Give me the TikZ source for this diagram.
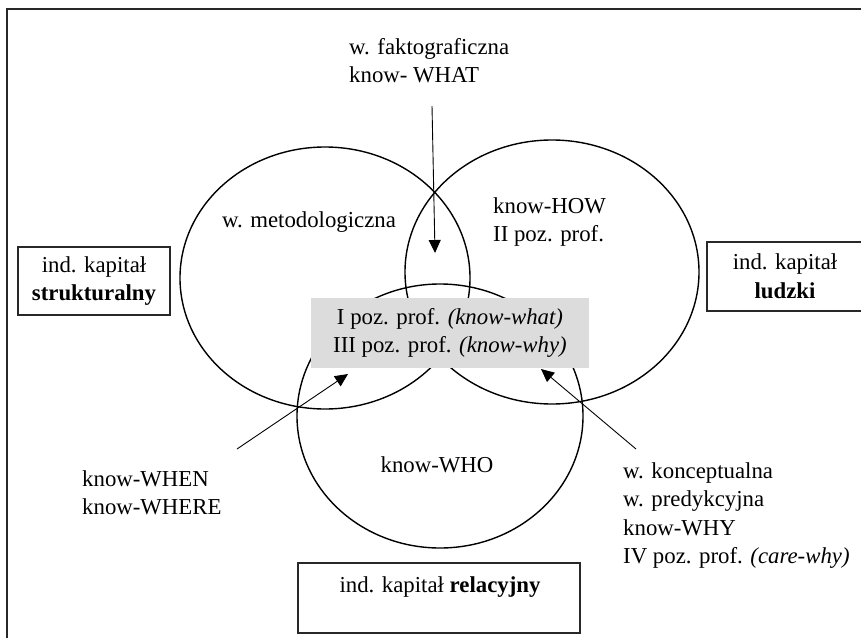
\documentclass[tikz,border=0pt]{standalone}
\usepackage{fontspec}
\setmainfont{Liberation Serif}
\usetikzlibrary{arrows.meta,shapes.geometric}
\definecolor{boxgrey}{RGB}{220,220,220}
\definecolor{framegrey}{RGB}{40,40,40}
\begin{document}
\begin{tikzpicture}[x=1pt,y=-1pt,
  txt/.style={font=\fontsize{22.8}{28.6}\selectfont, inner sep=0pt},
  venn/.style={draw, line width=1.4pt, ellipse, inner sep=0pt},
  kbox/.style={draw=framegrey, line width=1.1pt, rectangle, inner sep=0pt},
  arr/.style={line width=0.9pt, -{Triangle[length=13pt,width=12pt]}}
]
\useasboundingbox (0,0) rectangle (861,637);
% frame
\draw[framegrey, line width=1.8pt] (7,660) -- (7,9) -- (880,9);
% ellipses
\node[venn, minimum width=290pt, minimum height=262pt] (met) at (325,278) {};
\node[venn, minimum width=294pt, minimum height=264pt] (how) at (552,272) {};
\node[venn, minimum width=286pt, minimum height=264pt] (who) at (440,416) {};
% grey centre box
\node[fill=boxgrey, minimum width=278pt, minimum height=70pt, txt, align=center] (core) at (450,333)
  {I poz. prof. \textit{(know-what)}\\III poz. prof. \textit{(know-why)}};
% capital boxes
\node[kbox, minimum width=152pt, minimum height=68pt, txt, align=center] (lbox) at (94,281)
  {ind. kapitał\\\textbf{strukturalny}};
\node[kbox, minimum width=156pt, minimum height=69pt, txt, align=center] (rbox) at (785,276.5)
  {ind. kapitał\\\textbf{ludzki}};
\node[kbox, minimum width=282pt, minimum height=70pt] (bbox) at (439,598) {};
\node[txt] (btxt) at (440,587) {ind. kapitał \textbf{relacyjny}};
% labels
\node[txt, anchor=north west, align=left] (fakt) at (349,38) {w. faktograficzna\\know- WHAT};
\node[txt] (metl) at (309,222) {w. metodologiczna};
\node[txt, anchor=north west, align=left] (howl) at (493,197) {know-HOW\\II poz. prof.};
\node[txt] (whol) at (437,465) {know-WHO};
\node[txt, anchor=north west, align=left] (when) at (82,470) {know-WHEN\\know-WHERE};
\node[txt, anchor=north west, align=left] (why) at (623,462)
  {w. konceptualna\\w. predykcyjna\\know-WHY\\IV poz. prof. \textit{(care-why)}};
% arrows
\coordinate (a1s) at (432,106);
\coordinate (a1e) at (435,253);
\coordinate (a2s) at (237,449);
\coordinate (a2e) at (348,374);
\coordinate (a3s) at (636,449);
\coordinate (a3e) at (541,369);
\draw[arr] (a1s) -- (a1e);
\draw[arr] (a2s) -- (a2e);
\draw[arr] (a3s) -- (a3e);
\end{tikzpicture}
\end{document}
